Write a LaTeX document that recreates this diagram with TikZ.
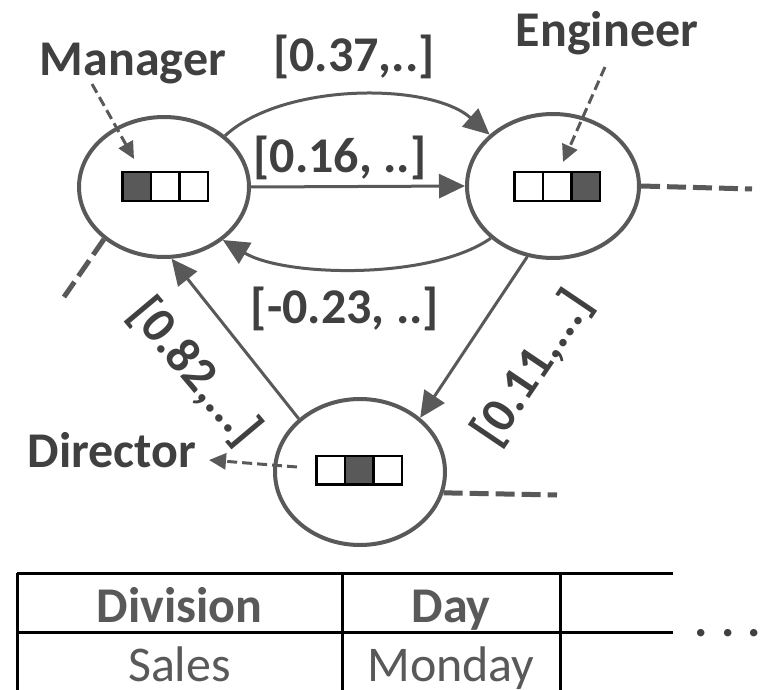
\documentclass[tikz,border=0pt]{standalone}
\usepackage{fontspec}
\setmainfont{Carlito}
\usetikzlibrary{shapes.geometric,arrows.meta}
\definecolor{linegray}{HTML}{595959}
\definecolor{textgray}{HTML}{404040}
\definecolor{cellfill}{HTML}{595959}

\begin{document}
\begin{tikzpicture}[x=1pt,y=-1pt,
  every node/.style={inner sep=0pt},
  state/.style={ellipse, draw=linegray, line width=4pt, fill=white},
  cell/.style={rectangle, draw=black, line width=2.5pt, minimum width=28.5pt, minimum height=28.5pt, fill=white},
  filled/.style={fill=cellfill},
  lbl/.style={font=\fontsize{50}{54}\selectfont\bfseries, text=textgray},
  headt/.style={font=\fontsize{50}{54}\selectfont\bfseries, text=linegray},
  bodyt/.style={font=\fontsize{50}{54}\selectfont, text=linegray},
  link/.style={draw=linegray, line width=3pt, -{Triangle[length=26pt,width=24pt]}},
  pointer/.style={draw=linegray, line width=3pt, dash pattern=on 10pt off 5pt, -{Triangle[length=17pt,width=16pt]}},
  stub/.style={draw=linegray, line width=5pt, dash pattern=on 19pt off 7pt},
  tabline/.style={draw=black, line width=3pt},
]
\useasboundingbox (0,0) rectangle (774,690);

% three states
\node[state, minimum width=170pt, minimum height=140pt] (mgr) at (164,187) {};
\node[state, minimum width=172pt, minimum height=144pt] (eng) at (553,186) {};
\node[state, minimum width=170pt, minimum height=146pt] (dir) at (360,472) {};

% one-hot vectors
\node[cell, filled] (m1) at (136.5,186.5) {};
\node[cell] (m2) at (165,186.5) {};
\node[cell] (m3) at (193.5,186.5) {};
\node[cell] (e1) at (528.5,186.5) {};
\node[cell] (e2) at (557,186.5) {};
\node[cell, filled] (e3) at (585.5,186.5) {};
\node[cell] (d1) at (330.5,470) {};
\node[cell, filled] (d2) at (359,470) {};
\node[cell] (d3) at (387.5,470) {};

% transitions
\draw[link] (mgr.40) .. controls +(57,-53) and +(-60,-53) .. (eng.141);
\draw[link] (mgr.east) -- (eng.west);
\draw[link] (eng.220) .. controls +(-60,42) and +(62,37) .. (mgr.318);
\draw[link] (dir.139) -- (mgr.276);
\draw[link] (eng.250) -- (dir.42);

% weights
\node[lbl, anchor=base] (w1) at (354,72) {[0.37,..]};
\node[lbl, anchor=base] (w2) at (340,172) {[0.16, ..]};
\node[lbl, anchor=base] (w3) at (345,323) {[-0.23, ..]};
\node[lbl, rotate=-50] (w4) at (195,372) {[0.82,...]};
\node[lbl, rotate=56] (w5) at (533,368) {[0.11,...]};

% open ends
\coordinate (mout) at (64,297);
\coordinate (eout) at (752,189);
\coordinate (dout) at (557,495);
\draw[stub] (mgr.221) -- (mout);
\draw[stub] (eng.east) -- (eout);
\draw[stub] (dir.346) -- (dout);

% names
\node[lbl, anchor=base] (mlab) at (133,76) {Manager};
\node[lbl, anchor=base] (elab) at (607,47) {Engineer};
\node[lbl, anchor=base] (dlab) at (112,467) {Director};
\coordinate (mtail) at (92,84);
\coordinate (mtip) at (134,159);
\coordinate (etail) at (605,67);
\coordinate (etip) at (563,162);
\coordinate (dtail) at (297,467);
\coordinate (dtip) at (209,460);
\draw[pointer] (mtail) -- (mtip);
\draw[pointer] (etail) -- (etip);
\draw[pointer] (dtail) -- (dtip);

% attribute table
\draw[tabline] (17,573) -- (673,573);
\draw[tabline] (17,632) -- (673,632);
\draw[tabline] (17,573) -- (17,692);
\draw[tabline] (342,573) -- (342,692);
\draw[tabline] (560,573) -- (560,692);
\node[headt, anchor=base] (hdiv) at (179.5,622) {Division};
\node[headt, anchor=base] (hday) at (451,622) {Day};
\node[bodyt, anchor=base] (vdiv) at (179.5,681) {Sales};
\node[bodyt, anchor=base] (vday) at (451,681) {Monday};
\node[lbl, anchor=base] (more) at (728,636) {.\kern13pt.\kern13pt.};
\end{tikzpicture}
\end{document}
